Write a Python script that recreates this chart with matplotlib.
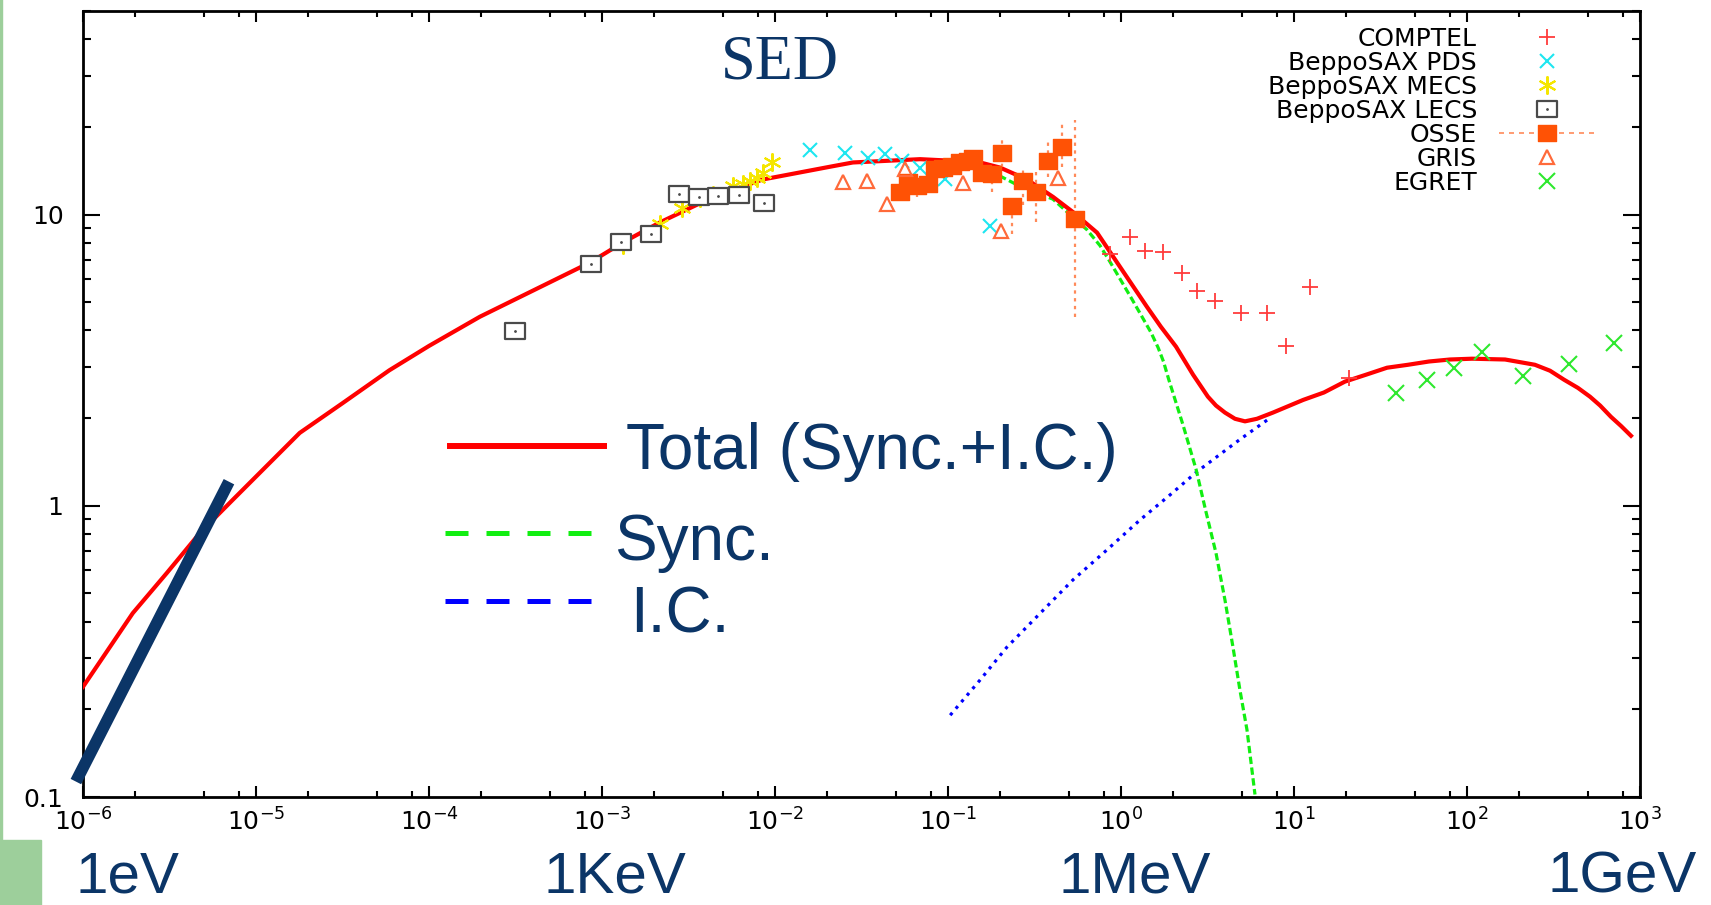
import numpy as np
import matplotlib.pyplot as plt
from matplotlib.lines import Line2D
from matplotlib.patches import Rectangle
from matplotlib.path import Path
from matplotlib.ticker import LogLocator, FixedLocator, NullFormatter, FuncFormatter

# ---- model curves (energy in MeV) ----
total_e = [1.0e-6, 1.94e-6, 3.06e-6, 4.74e-6, 7.36e-6, 1.79e-5, 3.16e-5, 5.9e-5, 1.0e-4, 1.97e-4,
           8.5e-4, 1.32e-3, 2.16e-3, 4.4e-3, 8.5e-3, 2.08e-2, 2.82e-2, 4.44e-2, 6.9e-2, 0.107,
           0.147, 0.200, 0.286, 0.405, 0.528, 0.727, 0.986, 1.41, 1.70, 2.08,
           2.61, 3.18, 3.54, 3.99, 4.56, 5.21, 6.11, 7.56, 11.3, 14.9,
           19.7, 26.1, 34.5, 45.6, 60.3, 79.8, 107, 166, 247, 302,
           364, 438, 514, 588, 680, 777, 887]
total_f = [0.239, 0.428, 0.589, 0.807, 1.05, 1.78, 2.25, 2.92, 3.54, 4.46,
           6.84, 8.02, 9.40, 11.5, 13.2, 14.6, 15.1, 15.3, 15.5, 15.3,
           15.2, 14.5, 13.2, 11.5, 10.2, 8.67, 6.62, 4.83, 4.12, 3.52,
           2.82, 2.37, 2.21, 2.09, 1.99, 1.95, 1.99, 2.09, 2.31, 2.45,
           2.67, 2.82, 2.98, 3.05, 3.13, 3.18, 3.20, 3.18, 3.05, 2.91,
           2.71, 2.54, 2.37, 2.21, 2.02, 1.88, 1.74]

sync_e = [0.1, 0.147, 0.261, 0.404, 0.636, 0.757, 0.863, 1.16, 1.49, 1.64, 1.76, 1.89,
          2.28, 2.72, 3.10, 3.54, 3.99, 4.44, 4.87, 5.35, 5.95]
sync_f = [15.3, 14.9, 12.5, 11.3, 8.87, 7.82, 6.89, 5.11, 3.94, 3.49, 3.13, 2.71,
          1.90, 1.33, 0.953, 0.689, 0.475, 0.327, 0.233, 0.170, 0.102]

ic_e = [0.103, 0.153, 0.219, 0.528, 0.830, 1.29, 1.92, 2.75, 4.87, 7.08]
ic_f = [0.191, 0.252, 0.327, 0.557, 0.706, 0.895, 1.09, 1.31, 1.69, 1.98]

# ---- observations ----
comptel_e = [0.863, 1.13, 1.38, 1.75, 2.25, 2.75, 3.49, 4.94, 6.98, 8.99, 12.4, 20.8]
comptel_f = [7.30, 8.40, 7.52, 7.46, 6.32, 5.48, 5.06, 4.60, 4.60, 3.55, 5.66, 2.75]

pds_e = [0.0159, 0.0254, 0.0345, 0.0433, 0.0542, 0.0689, 0.0961, 0.175]
pds_f = [16.6, 16.3, 15.6, 16.2, 15.3, 14.5, 13.3, 9.16]

mecs_e = [1.32e-3, 2.16e-3, 2.90e-3, 3.68e-3, 4.39e-3, 5.71e-3, 6.53e-3, 7.16e-3, 7.87e-3, 8.53e-3, 9.62e-3]
mecs_f = [7.89, 9.25, 10.5, 11.4, 11.7, 12.5, 12.7, 13.0, 13.4, 13.9, 15.1]

lecs_e = [3.14e-4, 8.63e-4, 1.29e-3, 1.92e-3, 2.79e-3, 3.64e-3, 4.69e-3, 6.2e-3, 8.6e-3]
lecs_f = [3.99, 6.79, 8.08, 8.61, 11.8, 11.5, 11.6, 11.7, 11.0]

osse_e = [0.0528, 0.0588, 0.0662, 0.0766, 0.0841, 0.0935, 0.105, 0.117, 0.130, 0.140,
          0.157, 0.180, 0.205, 0.234, 0.272, 0.323, 0.379, 0.456, 0.542]
osse_f = [12.0, 12.9, 12.5, 12.7, 14.3, 14.5, 14.7, 15.1, 15.3, 15.6,
          13.9, 13.8, 16.3, 10.7, 13.0, 12.0, 15.3, 17.1, 9.62]
osse_lo = [11.3, 12.9, 11.5, 12.7, 14.3, 14.5, 14.7, 15.1, 15.3, 15.6,
           12.9, 12.0, 14.6, 8.61, 10.8, 9.46, 13.5, 14.6, 4.46]
osse_hi = [12.0, 12.9, 12.5, 12.7, 14.3, 14.5, 14.7, 15.1, 15.3, 15.6,
           13.9, 13.8, 18.1, 10.7, 14.5, 14.5, 17.8, 20.4, 21.2]

gris_e = [0.0247, 0.034, 0.0444, 0.0564, 0.122, 0.202, 0.432]
gris_f = [12.9, 13.0, 10.9, 14.3, 12.8, 8.81, 13.4]

egret_e = [38.9, 58.8, 84.1, 122, 211, 389, 708]
egret_f = [2.44, 2.71, 2.98, 3.38, 2.78, 3.08, 3.61]

# thick slope bar at low energy
bar_e = [9.1e-7, 6.98e-6]
bar_f = [0.113, 1.21]

instruments = ['COMPTEL', 'BeppoSAX PDS', 'BeppoSAX MECS', 'BeppoSAX LECS', 'OSSE', 'GRIS', 'EGRET']
energy_labels = ['1eV', '1KeV', '1MeV', '1GeV']

navy = '#0b3567'
c_comptel = '#ff3b3b'
c_pds = '#1ee6f0'
c_mecs = '#f5e600'
c_lecs = '#4a4a4a'
c_osse = '#ff5205'
c_osse_err = '#ff8a5a'
c_gris = '#ff6a3a'
c_egret = '#2ee82e'


def wide_box(r):
    return Path([(-r, -1), (r, -1), (r, 1), (-r, 1), (-r, -1)],
                [Path.MOVETO, Path.LINETO, Path.LINETO, Path.LINETO, Path.CLOSEPOLY])


lecs_marker = wide_box(1.35)
osse_marker = wide_box(1.2)

fig = plt.figure(figsize=(17.11, 9.05), dpi=100)
ax = fig.add_axes([0.0485, 0.1193, 0.9100, 0.8685])

# curves
ax.plot(ic_e, ic_f, color='#0000ff', lw=2.3, ls=(0, (1.0, 1.7)), zorder=2)
ax.plot(sync_e, sync_f, color='#11ee11', lw=2.3, ls=(0, (2.3, 1.1)), zorder=2)
ax.plot(total_e, total_f, color='#ff0000', lw=3, zorder=3)

# data
ax.plot(comptel_e, comptel_f, ls='none', marker='+', ms=11, mew=1.3, color=c_comptel, zorder=4)
ax.plot(pds_e, pds_f, ls='none', marker='x', ms=10, mew=1.5, color=c_pds, zorder=4)
ax.plot(mecs_e, mecs_f, ls='none', marker=(6, 2, 0), ms=13, mew=1.5, color=c_mecs, zorder=4)
lecs_box, = ax.plot(lecs_e, lecs_f, ls='none', marker=lecs_marker, ms=15, mew=1.6, mfc='white',
                    mec=c_lecs, zorder=4)
lecs_dot, = ax.plot(lecs_e, lecs_f, ls='none', marker='.', ms=2, color=c_lecs, zorder=5)
osse_f_arr = np.array(osse_f)
yerr = [osse_f_arr - np.array(osse_lo), np.array(osse_hi) - osse_f_arr]
eb = ax.errorbar(osse_e, osse_f, yerr=yerr, fmt='none', ecolor=c_osse_err,
                 elinewidth=1.6, capsize=0, zorder=3.5)
eb[2][0].set_linestyle((0, (1.5, 2)))
ax.plot(osse_e, osse_f, ls='none', marker=osse_marker, ms=13, color=c_osse, zorder=4)
ax.plot(gris_e, gris_f, ls='none', marker='^', ms=10, mew=1.6, mfc='none', mec=c_gris, zorder=4)
ax.plot(egret_e, egret_f, ls='none', marker='x', ms=11, mew=1.5, color=c_egret, zorder=4)

ax.plot(bar_e, bar_f, color=navy, lw=8.5, solid_capstyle='butt', clip_on=False, zorder=6)

# axes
ax.set_xscale('log')
ax.set_yscale('log')
ax.set_xlim(1e-6, 1e3)
ax.set_ylim(0.1, 50)
ax.xaxis.set_major_locator(LogLocator(base=10, numticks=20))
ax.xaxis.set_minor_locator(LogLocator(base=10, subs=(2, 5, 8), numticks=20))
ax.xaxis.set_minor_formatter(NullFormatter())
ax.yaxis.set_major_locator(FixedLocator([0.1, 1, 10]))
ax.yaxis.set_major_formatter(FuncFormatter(lambda v, p: {0.1: '0.1', 1: '1', 10: '10'}.get(round(v, 1), '')))
ax.yaxis.set_minor_locator(LogLocator(base=10, subs=np.arange(2, 10), numticks=20))
ax.yaxis.set_minor_formatter(NullFormatter())
ax.tick_params(which='both', direction='in', top=True, right=True, width=1.5)
ax.tick_params(axis='x', which='major', length=8, pad=8, labelsize=18)
ax.tick_params(axis='x', which='minor', length=4)
ax.tick_params(axis='y', which='major', length=12, pad=14, labelsize=18)
ax.tick_params(axis='y', which='minor', length=6)
for s in ax.spines.values():
    s.set_linewidth(2)

# instrument legend
handles = [
    Line2D([], [], ls='none', marker='+', ms=11, mew=1.3, color=c_comptel),
    Line2D([], [], ls='none', marker='x', ms=10, mew=1.5, color=c_pds),
    Line2D([], [], ls='none', marker=(6, 2, 0), ms=13, mew=1.5, color=c_mecs),
    (lecs_box, lecs_dot),
    Line2D([], [], ls=(0, (3, 3)), lw=1.2, color=c_osse_err, marker=osse_marker, ms=13,
           mfc=c_osse, mec=c_osse),
    Line2D([], [], ls='none', marker='^', ms=10, mew=1.6, mfc='none', mec=c_gris),
    Line2D([], [], ls='none', marker='x', ms=11, mew=1.5, color=c_egret),
]
ax.legend(handles, instruments, loc='upper right', bbox_to_anchor=(0.9711, 0.980), frameon=False,
          markerfirst=False, fontsize=18, handlelength=3.84, handletextpad=0.88,
          labelspacing=0.0, borderpad=0, borderaxespad=0)

# model key
ax.plot([0.2357, 0.3346], [0.4466, 0.4466], transform=ax.transAxes, color='#ff0000', lw=4.3)
ax.plot([0.2325, 0.3288], [0.3359, 0.3359], transform=ax.transAxes, color='#11ee11', lw=3.6,
        ls=(0, (4.6, 3.6)))
ax.plot([0.2325, 0.3288], [0.2494, 0.2494], transform=ax.transAxes, color='#0000ff', lw=3.6,
        ls=(0, (4.6, 3.6)))
ax.text(0.3488, 0.4173, 'Total (Sync.+I.C.)', transform=ax.transAxes, fontsize=46,
        family='Liberation Sans', color=navy, va='baseline')
ax.text(0.3410, 0.3015, 'Sync.', transform=ax.transAxes, fontsize=46,
        family='Liberation Sans', color=navy, va='baseline')
ax.text(0.3513, 0.2087, 'I.C.', transform=ax.transAxes, fontsize=46,
        family='Liberation Sans', color=navy, va='baseline')

fig.text(0.4559, 0.9298, 'SED', fontsize=45, family='Liberation Serif', color=navy,
         ha='center', va='center')

for xpos, lab in zip([0.0742, 0.3594, 0.6630, 0.9480], energy_labels):
    fig.text(xpos, 0.014, lab, fontsize=42, family='Liberation Sans', color=navy,
             ha='center', va='baseline')

# slide decoration on the left edge
fig.patches.append(Rectangle((0, 0), 41 / 1711, 65 / 905, transform=fig.transFigure,
                             color='#9dcf9b', zorder=0))
fig.patches.append(Rectangle((0, 65 / 905), 2 / 1711, 1, transform=fig.transFigure,
                             color='#9dcf9b', zorder=0))

fig.savefig('out.png', dpi=100)
